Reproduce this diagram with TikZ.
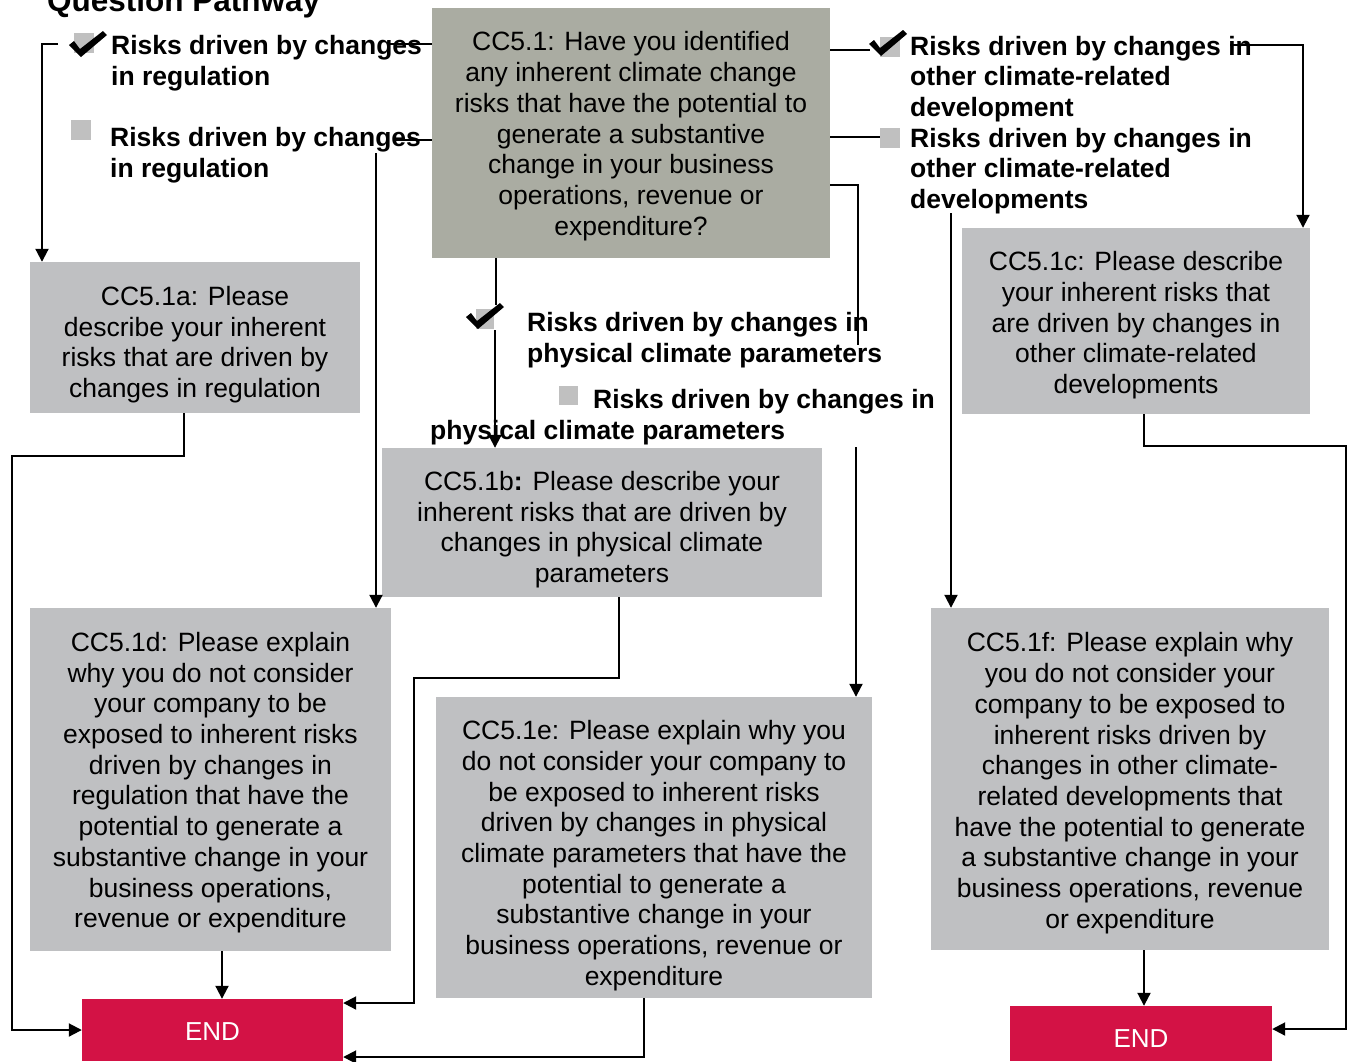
\documentclass[tikz,border=0pt]{standalone}
\usepackage{fontspec}
\setmainfont{Liberation Sans}
\usetikzlibrary{arrows.meta}
\definecolor{mainfill}{RGB}{170,172,162}
\definecolor{boxfill}{RGB}{191,192,194}
\definecolor{endfill}{RGB}{211,18,69}
\definecolor{chkfill}{RGB}{192,192,192}
\newcommand\tdown[1]{\rule{0pt}{\dimexpr19.6pt+#1pt\relax}}
\tikzset{
  box/.style={fill=boxfill, inner sep=0pt, align=center, font=\fontsize{26.5}{30.7}\selectfont},
  mainbox/.style={box, fill=mainfill},
  endbox/.style={fill=endfill, inner sep=0pt, text=white, font=\fontsize{26}{30}\selectfont},
  lbl/.style={anchor=base west, inner sep=0pt, align=left, font=\fontsize{26.5}{30.5}\selectfont\bfseries},
  ln/.style={line width=2pt},
  arr/.style={ln, -{Triangle[length=13pt,width=13pt]}},
  chk/.style={fill=chkfill},
  tick/.style={fill=black}
}
\begin{document}
\begin{tikzpicture}[x=1pt,y=-1pt]
\path[use as bounding box] (0,0) rectangle (1347,1061);
\clip (0,0) rectangle (1347,1061);

% title
\node[anchor=base west, inner sep=0pt, font=\fontsize{31.5}{36}\selectfont\bfseries] (title) at (47,11) {Question Pathway};

% boxes
\node[mainbox, minimum width=398pt, minimum height=250pt] (main) at (631,133)
  {\tdown{6}CC5.1: Have you identified\\any inherent climate change\\risks that have the potential to\\generate a substantive\\change in your business\\operations, revenue or\\expenditure?};
\node[box, minimum width=330pt, minimum height=151pt] (a) at (195,337.5)
  {\tdown{14}CC5.1a: Please\\describe your inherent\\risks that are driven by\\changes in regulation};
\node[box, minimum width=440pt, minimum height=149pt] (b) at (602,522.5)
  {\tdown{14}CC5.1b\textbf{:} Please describe your\\inherent risks that are driven by\\changes in physical climate\\parameters};
\node[box, minimum width=348pt, minimum height=186pt] (c) at (1136,321)
  {\tdown{8}CC5.1c: Please describe\\your inherent risks that\\are driven by changes in\\other climate-related\\developments};
\node[box, minimum width=361pt, minimum height=343pt] (d) at (210.5,779.5)
  {\tdown{6}CC5.1d: Please explain\\why you do not consider\\your company to be\\exposed to inherent risks\\driven by changes in\\regulation that have the\\potential to generate a\\substantive change in your\\business operations,\\revenue or expenditure};
\node[box, minimum width=436pt, minimum height=301pt] (e) at (654,847.5)
  {\tdown{16}CC5.1e: Please explain why you\\do not consider your company to\\be exposed to inherent risks\\driven by changes in physical\\climate parameters that have the\\potential to generate a\\substantive change in your\\business operations, revenue or\\expenditure};
\node[box, minimum width=398pt, minimum height=342pt] (f) at (1130,779)
  {\tdown{8}CC5.1f: Please explain why\\you do not consider your\\company to be exposed to\\inherent risks driven by\\changes in other climate-\\related developments that\\have the potential to generate\\a substantive change in your\\business operations, revenue\\or expenditure};
\node[endbox, minimum width=261pt, minimum height=62pt] (endL) at (212.5,1030) {\rule{0pt}{21pt}END};
\node[endbox, minimum width=262pt, minimum height=55pt] (endR) at (1141,1033.5) {\rule{0pt}{27pt}END};

% check boxes
\fill[chk] (74,33) rectangle (94,53);
\fill[chk] (71,120) rectangle (91,140);
\fill[chk] (880,37) rectangle (900,57);
\fill[chk] (880,128) rectangle (900,148);
\fill[chk] (476,309) rectangle (494,329);
\fill[chk] (559,386) rectangle (578,405);
\fill[tick, shift={(80,57)}] (-11,-12) -- (-6,-16) -- (0,-8) -- (23,-26) -- (27,-22) -- (1,0) -- cycle;
\fill[tick, shift={(880,56)}] (-11,-12) -- (-6,-16) -- (0,-8) -- (23,-26) -- (27,-22) -- (1,0) -- cycle;
\fill[tick, shift={(477,329)}] (-11,-12) -- (-6,-16) -- (0,-8) -- (23,-26) -- (27,-22) -- (1,0) -- cycle;

% labels (anchor = baseline of the last line)
\node[lbl] (L1) at (111,85) {Risks driven by changes\\in regulation};
\node[lbl] (L2) at (110,177) {Risks driven by changes\\in regulation};
\node[lbl] (R1) at (910,116) {Risks driven by changes in\\other climate-related\\development};
\node[lbl] (R2) at (910,208) {Risks driven by changes in\\other climate-related\\developments};
\node[lbl] (M1) at (527,362) {Risks driven by changes in\\physical climate parameters};
\node[lbl] (M2) at (430,439) {\hspace*{163pt}Risks driven by changes in\\physical climate parameters};

% free ends near labels
\coordinate (l1in) at (390,44);
\coordinate (l1out) at (58,44);
\coordinate (l2in) at (393,140);
\coordinate (l2out) at (376,153);
\coordinate (r1in) at (870,50);
\coordinate (r1out) at (1230,45);
\coordinate (r2in) at (880,137);
\coordinate (r2out) at (951,213);
\coordinate (m1in) at (496,305);
\coordinate (m1out) at (495,330);
\coordinate (m2in) at (858,345);
\coordinate (m2out) at (856,447);

% connectors
\draw[ln] (main.west |- l1in) -- (l1in);
\draw[arr] (l1out) -| (a.north -| 42,0);
\draw[ln] (main.west |- l2in) -- (l2in);
\draw[arr] (l2out) -- (d.north -| l2out);
\draw[ln] (main.east |- r1in) -- (r1in);
\draw[arr] (r1out) -| (c.north -| 1303,0);
\draw[ln] (main.east |- r2in) -- (r2in);
\draw[arr] (r2out) -- (f.north -| r2out);
\draw[ln] (main.east |- 0,185) -| (m2in);
\draw[arr] (m2out) -- (e.north -| m2out);
\draw[ln] (main.south -| m1in) -- (m1in);
\draw[arr] (m1out) -- (b.north -| m1out);
\draw[arr] (a.south -| 184,0) |- (12,456) |- (endL.west);
\draw[arr] (b.south -| 619,0) |- (414,678) |- (endL.east |- 0,1003);
\draw[arr] (d.south -| 222,0) -- (endL.north -| 222,0);
\draw[arr] (e.south -| 644,0) |- (endL.east |- 0,1057);
\draw[arr] (c.south -| 1144,0) |- (1346,446) |- (endR.east |- 0,1029);
\draw[arr] (f.south -| 1144,0) -- (endR.north -| 1144,0);
\end{tikzpicture}
\end{document}
